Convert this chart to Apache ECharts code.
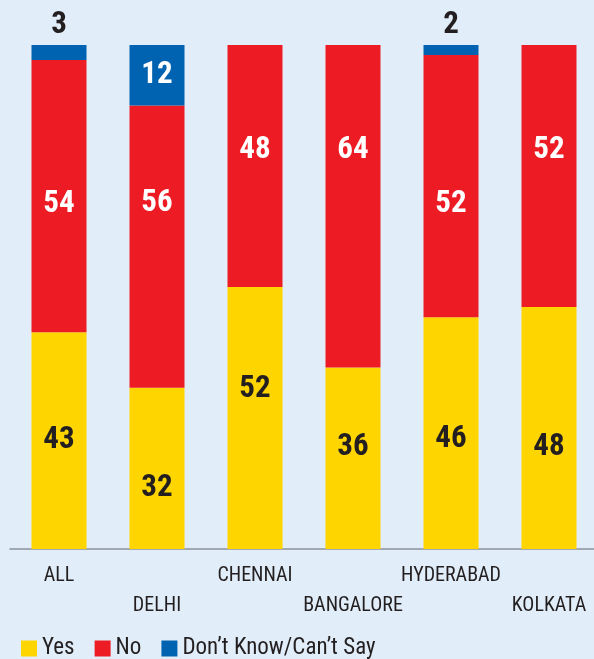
<!DOCTYPE html>
<html>
<head>
<meta charset="utf-8">
<style>
  html, body { margin: 0; padding: 0; background: #e1edf8; }
  #chart { width: 594px; height: 659px; }
</style>
<script src="https://cdn.jsdelivr.net/npm/echarts@6/dist/echarts.min.js"></script>
</head>
<body>
<div id="chart"></div>
<script>
// survey shares, per city (percent)
const cities = ['ALL', 'DELHI', 'CHENNAI', 'BANGALORE', 'HYDERABAD', 'KOLKATA']
const yesVals = [43, 32, 52, 36, 46, 48]
const noVals = [54, 56, 48, 64, 52, 52]
const dkVals = [3, 12, 0, 0, 2, 0]

// label nudges (px) so numbers sit where the print version has them
const yesShift = [0, 20, -29, -11, 6, 19]
const noShift = [8, -43, -16, -56, 18, -26]

const FONT = "'Liberation Sans Narrow', 'Roboto Condensed', 'DejaVu Sans Condensed', sans-serif"
const INK = '#231f20'

const chart = echarts.init(document.getElementById('chart'))

const withShift = (vals, shift) => vals.map((v, i) => ({
  value: v,
  label: { offset: [0, shift[i]] }
}))

chart.setOption({
  backgroundColor: '#e1edf8',
  animation: false,
  grid: { left: 10, width: 588, top: 45, bottom: 110, outerBoundsMode: 'none' },
  legend: {
    left: 16,
    top: 632,
    icon: 'rect',
    itemWidth: 16,
    itemHeight: 16,
    itemGap: 20,
    textStyle: { fontFamily: FONT, fontSize: 23, color: INK },
    data: ['Yes', 'No', "Don\u2019t Know/Can\u2019t Say"]
  },
  xAxis: [{
    type: 'category',
    data: cities,
    position: 'bottom',
    axisLine: { lineStyle: { color: '#8c939b', width: 1.5 } },
    axisTick: {
      alignWithLabel: true,
      length: 13,
      interval: (i) => i % 2 === 0,
      lineStyle: { color: '#6e747b', width: 1.5 }
    },
    axisLabel: {
      interval: (i) => i % 2 === 0,
      margin: 17,
      fontFamily: FONT,
      fontSize: 20,
      color: INK
    }
  }, {
    type: 'category',
    data: cities,
    position: 'bottom',
    axisLine: { show: false },
    axisTick: {
      alignWithLabel: true,
      length: 31,
      interval: (i) => i % 2 === 1,
      lineStyle: { color: '#6e747b', width: 1.5 }
    },
    axisLabel: {
      interval: (i) => i % 2 === 1,
      margin: 47,
      fontFamily: FONT,
      fontSize: 20,
      color: INK
    }
  }],
  yAxis: {
    type: 'value',
    min: 0,
    max: 100,
    show: false,
    splitLine: { show: false }
  },
  series: [{
    name: 'Yes',
    type: 'bar',
    stack: 'all',
    barWidth: 55,
    itemStyle: { color: '#ffd500' },
    label: {
      show: true,
      position: 'inside',
      fontFamily: FONT,
      fontWeight: 'bold',
      fontSize: 31,
      color: INK
    },
    data: withShift(yesVals, yesShift)
  }, {
    name: 'No',
    type: 'bar',
    stack: 'all',
    itemStyle: { color: '#ed1c24' },
    label: {
      show: true,
      position: 'inside',
      fontFamily: FONT,
      fontWeight: 'bold',
      fontSize: 31,
      color: '#ffffff'
    },
    data: withShift(noVals, noShift)
  }, {
    name: "Don\u2019t Know/Can\u2019t Say",
    type: 'bar',
    stack: 'all',
    itemStyle: { color: '#0063b1' },
    label: {
      show: true,
      fontFamily: FONT,
      fontWeight: 'bold',
      fontSize: 31,
      formatter: (p) => p.value > 0 ? String(p.value) : ''
    },
    // small shares get their number above the bar
    data: dkVals.map(v => v >= 8
      ? { value: v, label: { position: 'inside', color: '#ffffff' } }
      : { value: v, label: { position: 'top', distance: 4, color: INK } })
  }]
})
</script>
</body>
</html>
